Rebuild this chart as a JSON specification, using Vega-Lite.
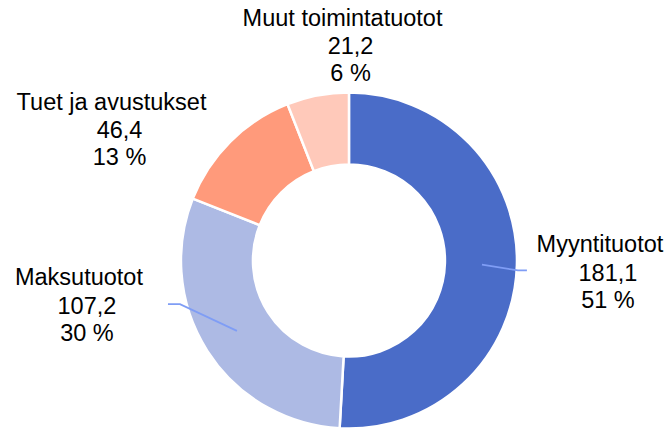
{
  "$schema": "https://vega.github.io/schema/vega-lite/v6.json",
  "width": 667,
  "height": 432,
  "autosize": {"type": "fit", "contains": "padding"},
  "padding": 0,
  "background": "white",
  "config": {"view": {"stroke": null}, "font": "Liberation Sans"},
  "datasets": {
    "slices": [
      {"i": 1, "name": "Myyntituotot", "value": 181.1, "lx": 1.485, "ly": 0.09},
      {"i": 2, "name": "Maksutuotot", "value": 107.2, "lx": -1.598, "ly": -0.105},
      {"i": 3, "name": "Tuet ja avustukset", "value": 46.4, "lx": -1.405, "ly": 0.942},
      {"i": 4, "name": "Muut toimintatuotot", "value": 21.2, "lx": -0.038, "ly": 1.445}
    ],
    "leaders": [
      {"name": "Myyntituotot", "k": 1, "u": 0.787, "v": -0.024},
      {"name": "Myyntituotot", "k": 2, "u": 1.0, "v": -0.059},
      {"name": "Myyntituotot", "k": 3, "u": 1.053, "v": -0.059},
      {"name": "Maksutuotot", "k": 1, "u": -0.663, "v": -0.42},
      {"name": "Maksutuotot", "k": 2, "u": -1.0, "v": -0.26},
      {"name": "Maksutuotot", "k": 3, "u": -1.071, "v": -0.26}
    ]
  },
  "layer": [
    {
      "data": {"name": "slices"},
      "mark": {"type": "arc", "innerRadius": 96, "outerRadius": 168, "stroke": "white", "strokeWidth": 2.5},
      "encoding": {
        "theta": {"field": "value", "type": "quantitative", "stack": true},
        "order": {"field": "i", "type": "quantitative"},
        "color": {
          "field": "name",
          "type": "nominal",
          "scale": {
            "domain": ["Myyntituotot", "Maksutuotot", "Tuet ja avustukset", "Muut toimintatuotot"],
            "range": ["#4a6cc8", "#adbae4", "#ff9a7b", "#ffc9ba"]
          },
          "legend": null
        },
        "x": {"datum": 0, "type": "quantitative", "scale": {"domain": [-2.065, 1.882], "nice": false, "zero": false}, "axis": null},
        "y": {"datum": 0, "type": "quantitative", "scale": {"domain": [-1, 1.556], "nice": false, "zero": false}, "axis": null}
      }
    },
    {
      "data": {"name": "leaders"},
      "mark": {"type": "line", "color": "#7f9df5", "strokeWidth": 1.8},
      "encoding": {
        "x": {"field": "u", "type": "quantitative"},
        "y": {"field": "v", "type": "quantitative"},
        "detail": {"field": "name"},
        "order": {"field": "k", "type": "quantitative"}
      }
    },
    {
      "data": {"name": "slices"},
      "mark": {"type": "text", "fontSize": 23.5, "align": "center", "baseline": "middle", "color": "black"},
      "encoding": {
        "x": {"field": "lx", "type": "quantitative"},
        "y": {"field": "ly", "type": "quantitative"},
        "text": {"field": "name"}
      }
    },
    {
      "data": {"name": "slices"},
      "transform": [
        {"joinaggregate": [{"op": "sum", "field": "value", "as": "total"}]},
        {"calculate": "[replace(format(datum.value, '.1f'), '.', ','), format(100 * datum.value / datum.total, '.0f') + ' %']", "as": "lines"}
      ],
      "mark": {"type": "text", "fontSize": 23.5, "align": "center", "baseline": "middle", "color": "black", "dx": 8, "dy": 28.5, "lineHeight": 27},
      "encoding": {
        "x": {"field": "lx", "type": "quantitative"},
        "y": {"field": "ly", "type": "quantitative"},
        "text": {"field": "lines"}
      }
    }
  ]
}
